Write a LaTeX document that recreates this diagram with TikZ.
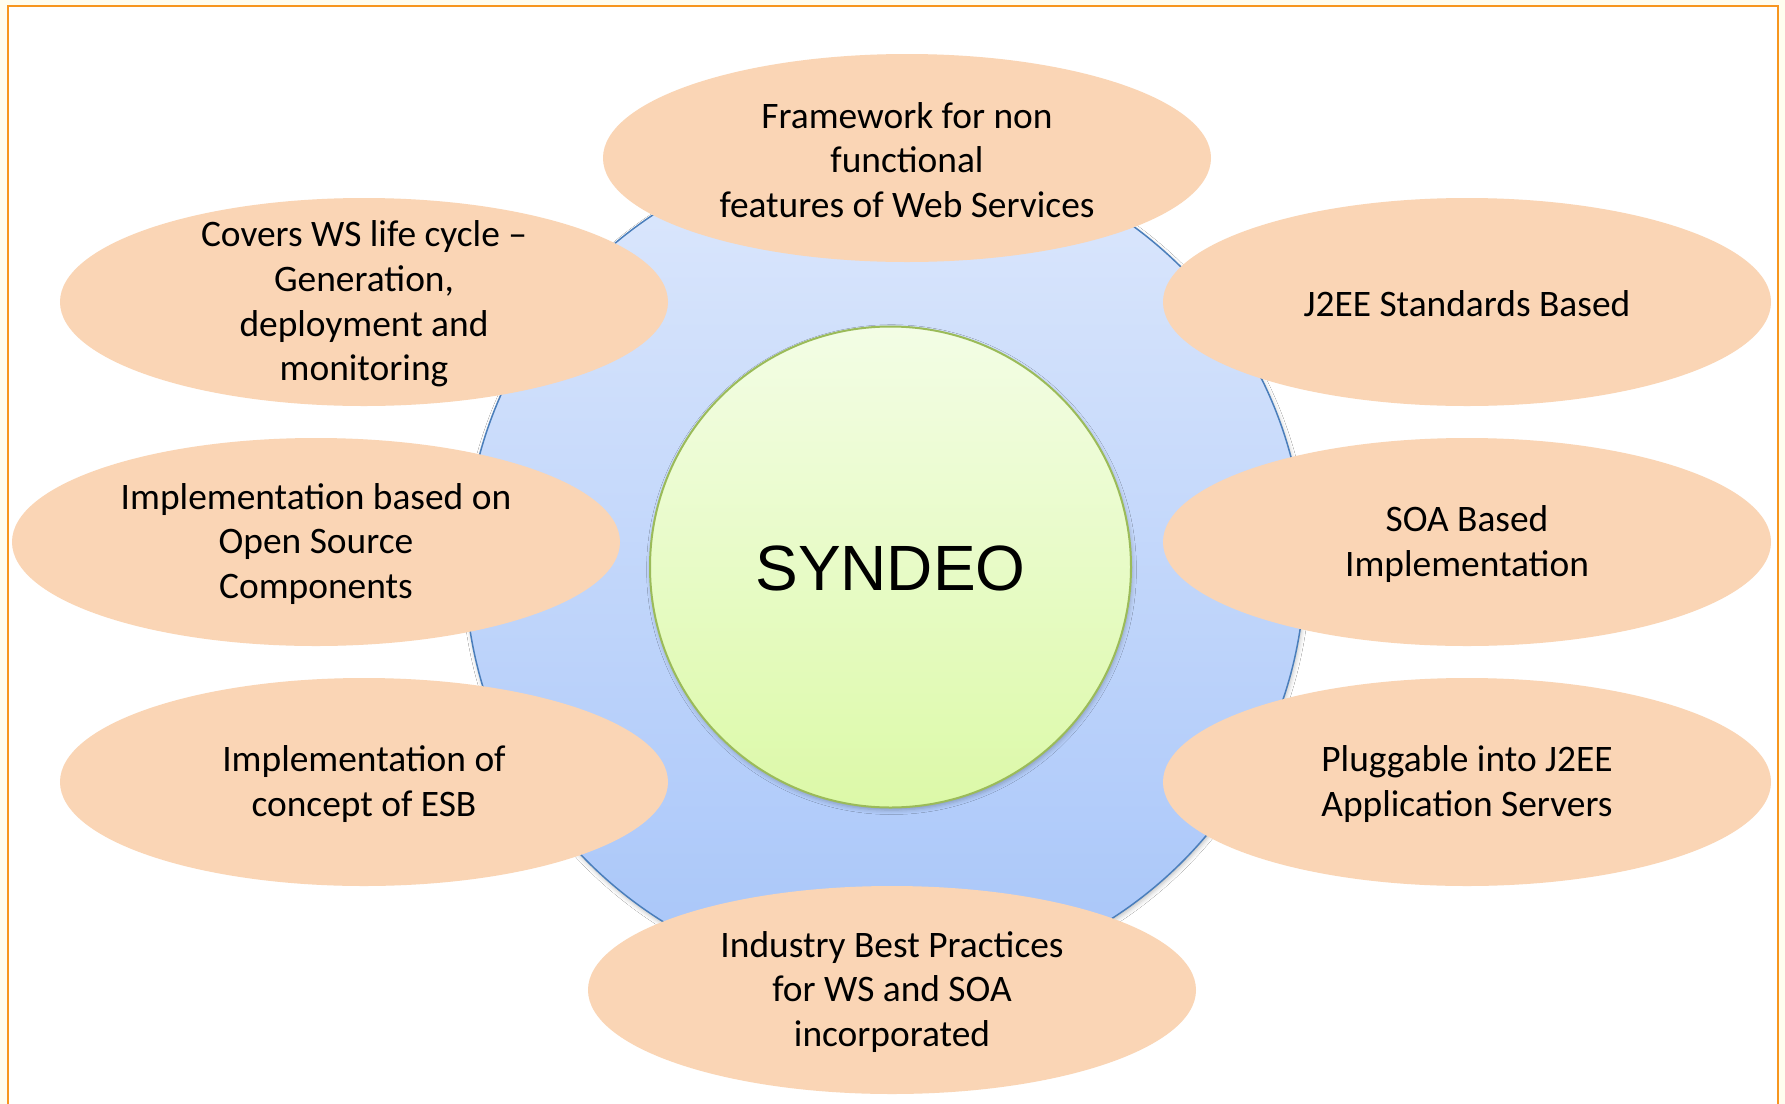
\documentclass[tikz,border=0pt]{standalone}
\usepackage{fontspec}
\setmainfont{Carlito}
\newfontfamily\arialf{Liberation Sans}
\usetikzlibrary{shapes.geometric, shadows.blur}

\definecolor{cream}{HTML}{FFFDEF}
\definecolor{frameorange}{HTML}{F7961F}
\definecolor{peach}{HTML}{FAD5B5}
\definecolor{blueTop}{HTML}{DDE8FC}
\definecolor{blueBot}{HTML}{A7C5F9}
\definecolor{blueEdge}{HTML}{4A7EBB}
\definecolor{greenTop}{HTML}{F3FDE5}
\definecolor{greenBot}{HTML}{DCF9A8}
\definecolor{greenEdge}{HTML}{9BBB59}

\begin{document}
\begin{tikzpicture}[x=0.5pt, y=-0.5pt,
  bub/.style={ellipse, fill=peach, minimum width=304pt, minimum height=104pt, inner sep=0pt},
  txt/.style={align=center, inner sep=0pt, yshift=-1pt, font=\fontsize{18.7}{22.3}\selectfont},
  softshadow/.style={blur shadow={shadow xshift=0.5pt, shadow yshift=-1.3pt, shadow blur radius=2.2pt, shadow opacity=25}}
]
\useasboundingbox (0,0) rectangle (1785,1104);
\fill[cream] (0,0) rectangle (1785,1104);
\fill[white] (8.3,5.7) rectangle (1778,1104);
\draw[frameorange, line width=1pt] (8.3,1104) -- (8.3,5.7) -- (1778,5.7) -- (1778,1104);

\node[circle, minimum size=420pt, inner sep=0pt, top color=blueTop, bottom color=blueBot,
      draw=blueEdge, line width=0.75pt, softshadow] (outer) at (885,565) {};
\node[circle, minimum size=240.5pt, inner sep=0pt, top color=greenTop, bottom color=greenBot,
      draw=greenEdge, line width=1pt, softshadow] (core) at (890.5,567) {};
\node[inner sep=0pt, font=\arialf\fontsize{32}{38}\selectfont] (coretext) at (890.5,568.5) {SYNDEO};

\node[bub] (top) at (907,158) {};
\node[txt] (topt) at (top) {Framework for non\\functional\\features of Web Services};

\node[bub] (tl) at (364,302) {};
\node[txt] (tlt) at (tl) {Covers WS life cycle –\\Generation,\\deployment and\\monitoring};

\node[bub] (tr) at (1467,302) {};
\node[txt] (trt) at (tr) {J2EE Standards Based};

\node[bub] (ml) at (316,542) {};
\node[txt] (mlt) at (ml) {Implementation based on\\Open Source\\Components};

\node[bub] (mr) at (1467,542) {};
\node[txt] (mrt) at (mr) {SOA Based\\Implementation};

\node[bub] (ll) at (364,782) {};
\node[txt] (llt) at (ll) {Implementation of\\concept of ESB};

\node[bub] (lr) at (1467,782) {};
\node[txt] (lrt) at (lr) {Pluggable into J2EE\\Application Servers};

\node[bub] (bot) at (892,990) {};
\node[txt] (bott) at (bot) {Industry Best Practices\\for WS and SOA\\incorporated};
\end{tikzpicture}
\end{document}
